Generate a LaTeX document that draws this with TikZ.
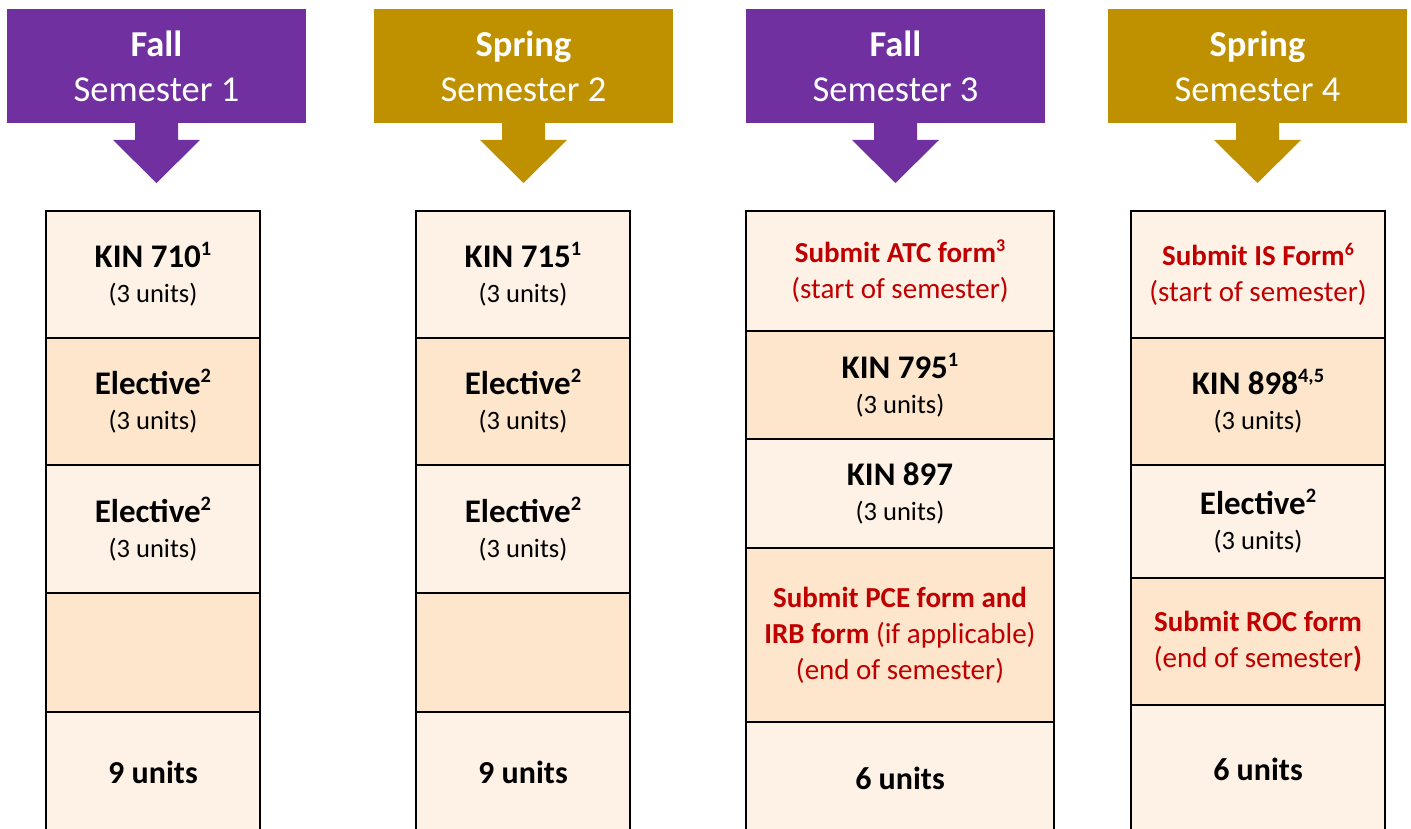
\documentclass[tikz,border=0pt]{standalone}
\usepackage{fontspec}
\setmainfont{Carlito}
\definecolor{hpurple}{HTML}{7030A0}
\definecolor{hgold}{HTML}{BF9000}
\definecolor{rowlight}{HTML}{FEF2E7}
\definecolor{rowdark}{HTML}{FDE6CC}
\definecolor{formred}{HTML}{C00000}
\newcommand\supx[1]{\raisebox{0.36em}{\scalebox{0.62}{#1}}}
\newcommand\crs[1]{{\fontsize{33}{35}\selectfont\bfseries #1}}
\newcommand\unt{(3 units)}
\tikzset{
  hdr/.style={fill=#1, draw=none, minimum height=114pt, minimum width=299pt,
    inner sep=0pt, outer sep=0pt, text=white, align=center, anchor=north west,
    font=\fontsize{36.5}{45}\selectfont},
  cell/.style={fill=#1, draw=black, line width=1.8pt, inner sep=0pt, outer sep=0pt,
    anchor=north west, align=center, font=\fontsize{26.5}{35}\selectfont},
  redtxt/.style={text=formred, font=\fontsize{29}{36}\selectfont},
  tot/.style={font=\fontsize{32}{36}\selectfont\bfseries},
}
\begin{document}
\begin{tikzpicture}[x=1pt,y=-1pt]
\useasboundingbox (0,0) rectangle (1411,829);
\clip (0,0) rectangle (1411,829);
% headers
\node[hdr=hpurple] (h1) at (7,9)    {\textbf{Fall}\\Semester 1};
\node[hdr=hgold]   (h2) at (374,9)  {\textbf{Spring}\\Semester 2};
\node[hdr=hpurple] (h3) at (746,9)  {\textbf{Fall}\\Semester 3};
\node[hdr=hgold]   (h4) at (1108,9) {\textbf{Spring}\\Semester 4};
\foreach \h/\c in {h1/hpurple,h2/hgold,h3/hpurple,h4/hgold}{
  \fill[\c] ([xshift=-21.5pt,yshift=0.5pt]\h.south) -- ([xshift=21.5pt,yshift=0.5pt]\h.south)
    -- ([xshift=21.5pt,yshift=-17pt]\h.south) -- ([xshift=43.5pt,yshift=-17pt]\h.south)
    -- ([yshift=-60pt]\h.south) -- ([xshift=-43.5pt,yshift=-17pt]\h.south)
    -- ([xshift=-21.5pt,yshift=-17pt]\h.south) -- cycle;
}
% column 1
\node[cell=rowlight, minimum width=214pt, minimum height=127pt] (a1) at (46,211) {\crs{KIN 710\supx{1}}\\\unt};
\node[cell=rowdark,  minimum width=214pt, minimum height=127pt] (a2) at (46,338) {\crs{Elective\supx{2}}\\\unt};
\node[cell=rowlight, minimum width=214pt, minimum height=128pt] (a3) at (46,465) {\crs{Elective\supx{2}}\\\unt};
\node[cell=rowdark,  minimum width=214pt, minimum height=119pt] (a4) at (46,593) {};
\node[cell=rowlight, minimum width=214pt, minimum height=121pt, tot] (a5) at (46,712) {9 units};
% column 2
\node[cell=rowlight, minimum width=214pt, minimum height=127pt] (b1) at (416,211) {\crs{KIN 715\supx{1}}\\\unt};
\node[cell=rowdark,  minimum width=214pt, minimum height=127pt] (b2) at (416,338) {\crs{Elective\supx{2}}\\\unt};
\node[cell=rowlight, minimum width=214pt, minimum height=128pt] (b3) at (416,465) {\crs{Elective\supx{2}}\\\unt};
\node[cell=rowdark,  minimum width=214pt, minimum height=119pt] (b4) at (416,593) {};
\node[cell=rowlight, minimum width=214pt, minimum height=121pt, tot] (b5) at (416,712) {9 units};
% column 3
\node[cell=rowlight, minimum width=308pt, minimum height=120pt, redtxt] (c1) at (746,211)
  {\textbf{Submit ATC form\supx{3}}\\(start of semester)};
\node[cell=rowdark,  minimum width=308pt, minimum height=108pt] (c2) at (746,331) {\crs{KIN 795\supx{1}}\\\unt};
\node[cell=rowlight, minimum width=308pt, minimum height=109pt] (c3) at (746,439) {\crs{KIN 897}\\\unt};
\node[cell=rowdark,  minimum width=308pt, minimum height=174pt, redtxt] (c4) at (746,548)
  {\textbf{Submit PCE form and}\\\textbf{IRB form} (if applicable)\\(end of semester)};
\node[cell=rowlight, minimum width=308pt, minimum height=112pt, tot] (c5) at (746,722) {6 units};
% column 4
\node[cell=rowlight, minimum width=254pt, minimum height=127pt, redtxt] (d1) at (1131,211)
  {\textbf{Submit IS Form\supx{6}}\\(start of semester)};
\node[cell=rowdark,  minimum width=254pt, minimum height=127pt] (d2) at (1131,338) {\crs{KIN 898\supx{4,5}}\\\unt};
\node[cell=rowlight, minimum width=254pt, minimum height=113pt] (d3) at (1131,465) {\crs{Elective\supx{2}}\\\unt};
\node[cell=rowdark,  minimum width=254pt, minimum height=127pt, redtxt] (d4) at (1131,578)
  {\textbf{Submit ROC form}\\(end of semester\textbf{)}};
\node[cell=rowlight, minimum width=254pt, minimum height=129pt, tot] (d5) at (1131,705) {6 units};
\end{tikzpicture}
\end{document}
